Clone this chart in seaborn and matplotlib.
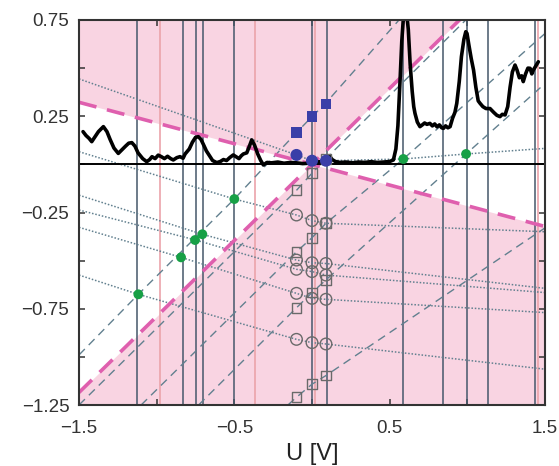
import numpy as np
import pandas as pd
import matplotlib
matplotlib.use("Agg")
import matplotlib.pyplot as plt
import seaborn as sns

sns.set_theme(style="white")
plt.rcParams['font.family'] = ['Liberation Sans', 'DejaVu Sans']

# axis ranges
U_MIN, U_MAX = -1.5, 1.5
Y_MIN, Y_MAX = -1.25, 0.75

# measured conductance trace
trace_u = [-1.474, -1.455, -1.435, -1.418, -1.40, -1.375, -1.343, -1.32, -1.30, -1.275, -1.247,
           -1.225, -1.20, -1.18, -1.16, -1.14, -1.12, -1.09, -1.064, -1.045, -1.03, -1.01, -0.99,
           -0.97, -0.95, -0.93, -0.91, -0.893, -0.87, -0.85, -0.83, -0.817, -0.79, -0.77, -0.75,
           -0.732, -0.715, -0.70, -0.68, -0.66, -0.64, -0.613, -0.59, -0.57, -0.55, -0.53, -0.507,
           -0.49, -0.47, -0.455, -0.442, -0.42, -0.405, -0.388, -0.37, -0.35, -0.33, -0.313, -0.29,
           -0.26, -0.22, -0.18, -0.14, -0.10, -0.06, -0.02, 0.02, 0.06, 0.09, 0.105, 0.116, 0.13,
           0.15, 0.18, 0.22, 0.26, 0.30, 0.34, 0.38, 0.42, 0.46, 0.50, 0.524, 0.540, 0.553, 0.567,
           0.578, 0.590, 0.600, 0.610, 0.620, 0.632, 0.645, 0.655, 0.663, 0.678, 0.695, 0.71, 0.725,
           0.74, 0.759, 0.775, 0.79, 0.805, 0.82, 0.835, 0.846, 0.86, 0.875, 0.889, 0.905, 0.92,
           0.932, 0.948, 0.962, 0.978, 0.990, 0.998, 1.010, 1.025, 1.040, 1.055, 1.070, 1.082,
           1.10, 1.12, 1.146, 1.17, 1.19, 1.21, 1.225, 1.243, 1.26, 1.275, 1.29, 1.307, 1.32,
           1.335, 1.35, 1.36, 1.375, 1.39, 1.404, 1.415, 1.425, 1.44, 1.457]
trace_y = [0.170, 0.150, 0.135, 0.118, 0.140, 0.170, 0.196, 0.170, 0.130, 0.085, 0.057,
           0.075, 0.095, 0.110, 0.113, 0.095, 0.060, 0.030, 0.014, 0.025, 0.040, 0.030, 0.048,
           0.040, 0.030, 0.042, 0.030, 0.023, 0.035, 0.040, 0.032, 0.054, 0.080, 0.115, 0.140,
           0.144, 0.130, 0.105, 0.070, 0.045, 0.020, 0.009, 0.015, 0.025, 0.020, 0.035, 0.049,
           0.040, 0.030, 0.045, 0.054, 0.060, 0.090, 0.127, 0.100, 0.055, 0.020, -0.003, 0.010,
           0.008, 0.012, 0.006, 0.010, 0.008, 0.004, 0.006, 0.010, 0.015, 0.022, 0.035, 0.040, 0.025,
           0.015, 0.010, 0.012, 0.008, 0.012, 0.010, 0.014, 0.010, 0.012, 0.015, 0.023, 0.080, 0.200, 0.438,
           0.640, 0.780, 0.800, 0.780, 0.700, 0.520, 0.380, 0.300, 0.265, 0.220, 0.196, 0.205, 0.215,
           0.208, 0.213, 0.200, 0.210, 0.195, 0.205, 0.190, 0.187, 0.200, 0.190, 0.196, 0.240, 0.270,
           0.317, 0.430, 0.560, 0.650, 0.689, 0.680, 0.620, 0.550, 0.490, 0.400, 0.330, 0.317,
           0.300, 0.290, 0.290, 0.270, 0.255, 0.248, 0.260, 0.257, 0.300, 0.400, 0.480, 0.516, 0.490,
           0.450, 0.460, 0.430, 0.470, 0.500, 0.499, 0.470, 0.490, 0.510, 0.533]

# slopes of the two lead resonance conditions (both through the origin)
slope_source = 0.79
slope_drain = -0.215

# bias positions where levels enter the window
resonance_dark = [-1.128, -0.832, -0.749, -0.699, -0.50, 0.0, 0.095, 0.584, 0.846, 0.996, 1.136, 1.436]
resonance_light = [-0.98, -0.37, 0.02, 1.452]

# columns of computed levels
column_u = [-0.10, 0.00, 0.09]

# level energies: dotted lines (left edge, crossing point, columns, right edge)
dotted_u = {
    'a': [-1.5, -0.10, 0.00, 0.09, 0.588, 0.992, 1.5],
    'b': [-1.5, -0.50, -0.10, 0.00, 0.09, 1.5],
    'c': [-1.5, -0.706, -0.10, 0.00, 0.09, 1.5],
    'd': [-1.5, -0.749, -0.10, 0.00, 0.09, 1.5],
    'e': [-1.5, -0.843, -0.10, 0.00, 0.09, 1.5],
    'f': [-1.5, -1.118, -0.10, 0.00, 0.09, 1.5],
}
dotted_y = {
    'a': [0.444, 0.049, 0.019, 0.019, 0.028, 0.054, 0.083],
    'b': [0.066, -0.180, -0.263, -0.292, -0.306, -0.350],
    'c': [-0.160, -0.363, -0.497, -0.511, -0.515, -0.644],
    'd': [-0.237, -0.393, -0.545, -0.557, -0.575, -0.666],
    'e': [-0.327, -0.483, -0.670, -0.696, -0.701, -0.770],
    'f': [-0.575, -0.675, -0.909, -0.926, -0.933, -1.064],
}

# dashed lines along the source condition
dashed_u = {
    'g': [-1.5, -1.118, -0.50, -0.10, 0.00, 0.084, 0.56],
    's1': [-1.5, -0.10, 0.00, 0.09, 0.99],
    's2': [-1.10, -0.10, 0.00, 0.09, 0.588, 1.5],
    's3': [-0.73, -0.10, 0.00, 0.09, 0.992, 1.5],
    's4': [-0.155, -0.10, 0.00, 0.09, 1.5],
}
dashed_y = {
    'g': [-0.99, -0.675, -0.180, 0.165, 0.248, 0.314, 0.75],
    's1': [-1.25, -0.135, -0.046, 0.030, 0.75],
    's2': [-1.25, -0.454, -0.381, -0.306, 0.028, 0.680],
    's3': [-1.25, -0.745, -0.666, -0.600, 0.054, 0.420],
    's4': [-1.25, -1.210, -1.142, -1.097, -0.330],
}

# crossing points with the Fermi level (filled green)
cross_u = [-1.118, -0.843, -0.753, -0.706, -0.50, 0.588, 0.992]
cross_y = [-0.675, -0.483, -0.393, -0.363, -0.180, 0.028, 0.054]

# blue markers
blue_sq_y = [0.165, 0.248, 0.314]
blue_circ_y = [0.049, 0.019, 0.019]

# open circles (columns) and open squares
open_circ_y = [[-0.263, -0.497, -0.545, -0.670, -0.909],
               [-0.292, -0.511, -0.557, -0.696, -0.926],
               [-0.306, -0.515, -0.575, -0.701, -0.933]]
open_sq_y = [[-0.135, -0.454, -0.745, -1.210],
             [-0.046, -0.381, -0.666, -1.142],
             [0.030, -0.306, -0.600, -1.097]]

PINK = '#f9d4e2'
MAGENTA = '#df5fae'
DARK = '#45576a'
LIGHT = '#eba3aa'
GREY_LINE = '#62808f'

fig = plt.figure(figsize=(5.59, 4.66), dpi=100)
ax = fig.add_axes([79 / 559, 61 / 466, 466 / 559, 385 / 466])

# blocked regions between the two lead conditions
grid = np.linspace(U_MIN, U_MAX, 601)
src = slope_source * grid
drn = slope_drain * grid
ax.fill_between(grid, np.maximum(src, drn), Y_MAX, color=PINK, lw=0, zorder=0)
ax.fill_between(grid, Y_MIN, np.minimum(src, drn), color=PINK, lw=0, zorder=0)

for u in resonance_light:
    ax.axvline(u, color=LIGHT, lw=1.2, zorder=1)
for u in resonance_dark:
    ax.axvline(u, color=DARK, lw=1.1, zorder=1.1)

dotted_df = pd.concat([pd.DataFrame({'U': dotted_u[k], 'E': dotted_y[k], 'level': k}) for k in dotted_u])
sns.lineplot(data=dotted_df, x='U', y='E', units='level', estimator=None, sort=False,
             color=GREY_LINE, lw=1.1, linestyle=(0, (1, 1.2)), ax=ax, zorder=2)

dashed_df = pd.concat([pd.DataFrame({'U': dashed_u[k], 'E': dashed_y[k], 'level': k}) for k in dashed_u])
sns.lineplot(data=dashed_df, x='U', y='E', units='level', estimator=None, sort=False,
             color=GREY_LINE, lw=1.0, linestyle=(0, (6, 4)), ax=ax, zorder=2)

lead_df = pd.DataFrame({'U': [U_MIN, U_MAX, U_MIN, U_MAX],
                        'E': [slope_source * U_MIN, slope_source * U_MAX,
                              slope_drain * U_MIN, slope_drain * U_MAX],
                        'lead': ['source', 'source', 'drain', 'drain']})
sns.lineplot(data=lead_df, x='U', y='E', units='lead', estimator=None, sort=False,
             color=MAGENTA, lw=2.6, linestyle=(0, (5, 3)), ax=ax, zorder=3)

ax.axhline(0, color='black', lw=1.4, zorder=3.5)

sns.lineplot(x=trace_u, y=trace_y, color='black', lw=2.6, ax=ax, zorder=4)

col_u_circ = np.repeat(column_u, [len(r) for r in open_circ_y])
sns.scatterplot(x=col_u_circ, y=np.concatenate(open_circ_y), marker='o', s=70,
                facecolor='none', edgecolor='#6a6a6a', linewidth=1.0, ax=ax, zorder=5)
col_u_sq = np.repeat(column_u, [len(r) for r in open_sq_y])
sns.scatterplot(x=col_u_sq, y=np.concatenate(open_sq_y), marker='s', s=50,
                facecolor='none', edgecolor='#6a6a6a', linewidth=1.0, ax=ax, zorder=5)

sns.scatterplot(x=column_u, y=blue_sq_y, marker='s', s=55, color='#3a3fa8', edgecolor='none', ax=ax, zorder=6)
sns.scatterplot(x=column_u, y=blue_circ_y, marker='o', s=75, color='#3a3fa8', edgecolor='none', ax=ax, zorder=6)
sns.scatterplot(x=cross_u, y=cross_y, marker='o', s=50, color='#17a046', edgecolor='none', ax=ax, zorder=6)

ax.set_xlim(U_MIN, U_MAX)
ax.set_ylim(Y_MIN, Y_MAX)
xt = [-1.5, -1.0, -0.5, 0.0, 0.5, 1.0, 1.5]
ax.set_xticks(xt)
ax.set_xticklabels(['\u22121.5', '', '\u22120.5', '', '0.5', '', '1.5'])
yt = [-1.25, -1.0, -0.75, -0.5, -0.25, 0.0, 0.25, 0.5, 0.75]
ax.set_yticks(yt)
ax.set_yticklabels(['\u22121.25', '', '\u22120.75', '', '\u22120.25', '', '0.25', '', '0.75'])
ax.tick_params(direction='in', length=4, width=1.1, top=True, right=True, bottom=True, left=True,
               labelsize=13.5, labelcolor='#333333', color='#333333', pad=7)
ax.tick_params(axis='x', pad=11)
for s in ax.spines.values():
    s.set_color('#333333')
    s.set_linewidth(1.5)
    s.set_zorder(10)
ax.set_xlabel('U [V]', fontsize=17, color='#222222', labelpad=4)
ax.set_ylabel('')

fig.savefig('out.png', dpi=100)
